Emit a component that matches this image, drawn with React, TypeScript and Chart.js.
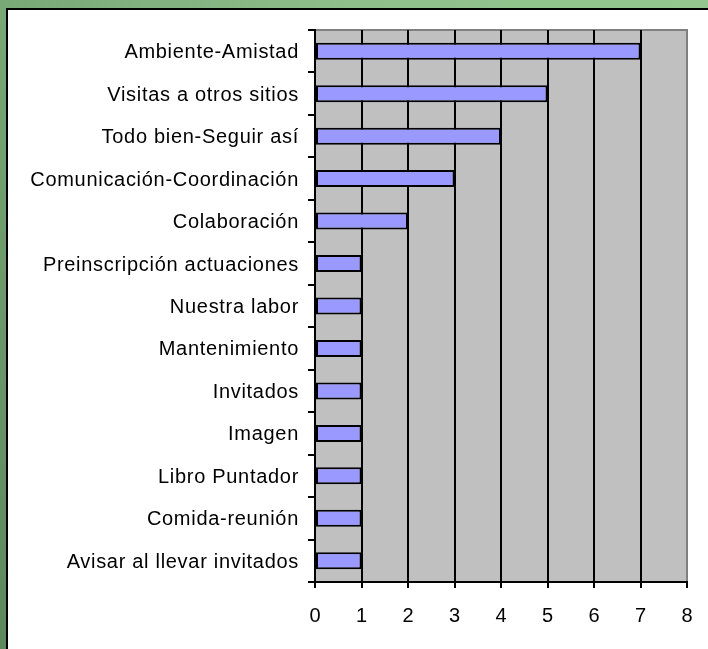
import React, { useEffect, useRef } from "react";
import { Chart, registerables } from "chart.js";

Chart.register(...registerables);

const categories = [
  "Ambiente-Amistad",
  "Visitas a otros sitios",
  "Todo bien-Seguir así",
  "Comunicación-Coordinación",
  "Colaboración",
  "Preinscripción actuaciones",
  "Nuestra labor",
  "Mantenimiento",
  "Invitados",
  "Imagen",
  "Libro Puntador",
  "Comida-reunión",
  "Avisar al llevar invitados",
];
const counts = [7, 5, 4, 3, 2, 1, 1, 1, 1, 1, 1, 1, 1];
const xTickValues = [0, 1, 2, 3, 4, 5, 6, 7, 8];

const FONT = '20px "Liberation Sans", Arial, sans-serif';

const plotBg = {
  id: "plotBg",
  beforeDraw(chart: any) {
    const { ctx, chartArea: a } = chart;
    ctx.save();
    ctx.fillStyle = "#c0c0c0";
    ctx.fillRect(a.left, a.top, a.right - a.left, a.bottom - a.top);
    ctx.strokeStyle = "#808080";
    ctx.lineWidth = 2;
    ctx.beginPath();
    ctx.moveTo(a.left, a.top);
    ctx.lineTo(a.right, a.top);
    ctx.lineTo(a.right, a.bottom);
    ctx.stroke();
    ctx.restore();
  },
};

const labelsPlugin = {
  id: "labelsPlugin",
  afterDraw(chart: any) {
    const { ctx } = chart;
    const ys = chart.scales.y;
    const xs = chart.scales.x;
    ctx.save();
    ctx.fillStyle = "#000";
    ctx.font = FONT;
    ctx.textBaseline = "alphabetic";
    ctx.textAlign = "right";
    try {
      (ctx as any).letterSpacing = "0.7px";
    } catch (e) {}
    categories.forEach((lab, i) => {
      const py = ys.getPixelForValue(i);
      ctx.fillText(lab, ys.right - 16, py + 7);
    });
    try {
      (ctx as any).letterSpacing = "0px";
    } catch (e) {}
    ctx.textAlign = "center";
    xTickValues.forEach((v) => {
      const px = xs.getPixelForValue(v);
      ctx.fillText(String(v), px, xs.top + 40);
    });
    ctx.restore();
  },
};

export default function App() {
  const ref = useRef<HTMLCanvasElement | null>(null);
  useEffect(() => {
    if (!ref.current) return;
    const chart = new Chart(ref.current, {
      type: "bar",
      data: {
        labels: categories,
        datasets: [
          {
            data: counts,
            backgroundColor: "#9999ff",
            borderColor: "#000000",
            borderWidth: 2,
            borderSkipped: false,
            barPercentage: 0.4,
            categoryPercentage: 1,
          },
        ],
      },
      options: {
        indexAxis: "y",
        responsive: false,
        animation: false,
        devicePixelRatio: 1,
        layout: { padding: { top: 30, right: 21, bottom: 0, left: 0 } },
        plugins: {
          legend: { display: false },
          tooltip: { enabled: false },
        },
        scales: {
          x: {
            type: "linear",
            min: 0,
            max: 8,
            ticks: { stepSize: 1, display: false },
            grid: {
              color: (c: any) => (c.tick && c.tick.value === 8 ? "rgba(0,0,0,0)" : "#000000"),
              lineWidth: 2,
              drawTicks: true,
              tickLength: 6,
              tickColor: "#000000",
            },
            border: { display: true, color: "#000000", width: 2 },
            afterFit: (s: any) => {
              s.height = 67;
            },
          },
          y: {
            type: "category",
            ticks: { display: false },
            grid: {
              offset: true,
              drawOnChartArea: false,
              drawTicks: true,
              tickLength: 7,
              tickColor: "#000000",
              lineWidth: 2,
            },
            border: { display: true, color: "#000000", width: 2 },
            afterFit: (s: any) => {
              s.width = 315;
            },
          },
        },
      },
      plugins: [plotBg, labelsPlugin],
    });
    return () => chart.destroy();
  }, []);

  return (
    <div style={{ position: "fixed", left: 0, top: 0, width: 708, height: 649, background: "#ffffff", overflow: "hidden" }}>
      <div style={{ position: "absolute", left: 0, top: 0, width: 708, height: 8, background: "linear-gradient(to right, #78a876, #8fc08b 50%, #94c690)" }} />
      <div style={{ position: "absolute", left: 0, top: 0, width: 6, height: 649, background: "linear-gradient(to bottom, #78a876, #5c885a)" }} />
      <div style={{ position: "absolute", left: 6, top: 8, width: 702, height: 2, background: "#000" }} />
      <div style={{ position: "absolute", left: 6, top: 8, width: 2, height: 641, background: "#000" }} />
      <canvas ref={ref} width={708} height={649} style={{ position: "absolute", left: 0, top: 0, width: 708, height: 649 }} />
    </div>
  );
}
